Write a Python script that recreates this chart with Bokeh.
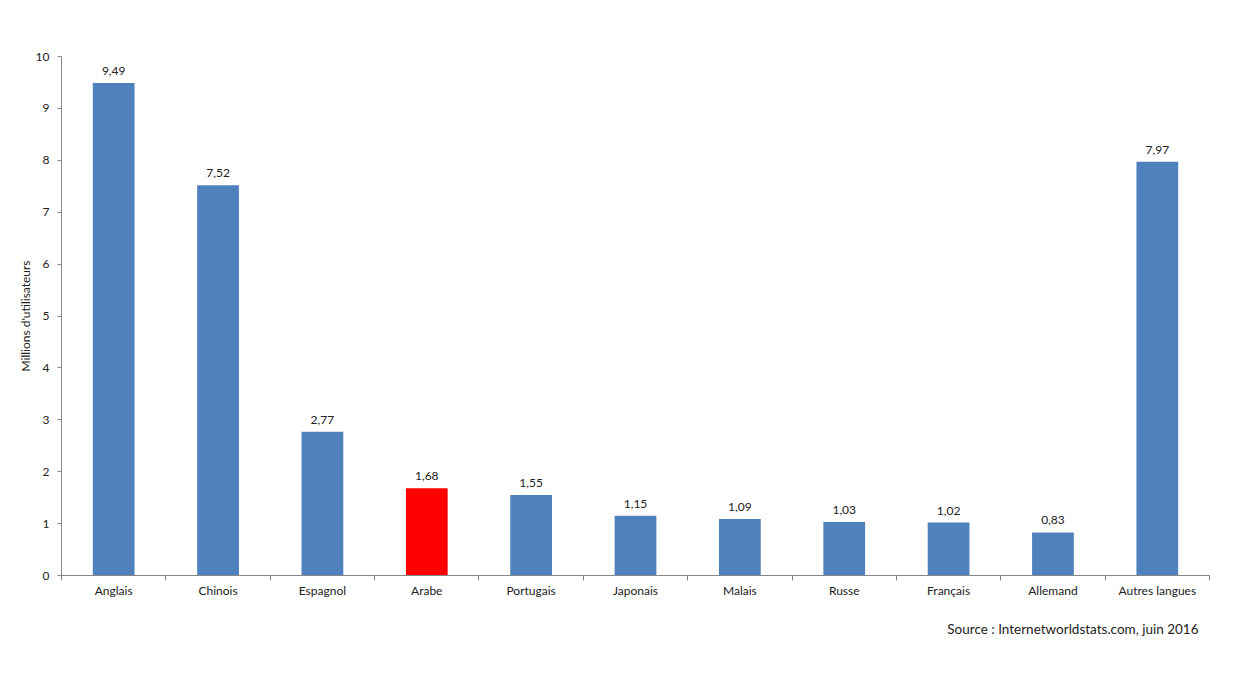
from bokeh.plotting import figure
from bokeh.models import ColumnDataSource, FixedTicker, Range1d, Title
from bokeh.core.properties import value
from bokeh.embed import file_html
from bokeh.resources import INLINE

languages = ["Anglais", "Chinois", "Espagnol", "Arabe", "Portugais", "Japonais",
             "Malais", "Russe", "Français", "Allemand", "Autres langues"]
users = [9.49, 7.52, 2.77, 1.68, 1.55, 1.15, 1.09, 1.03, 1.02, 0.83, 7.97]
highlight = "Arabe"
y_ticks = [0, 1, 2, 3, 4, 5, 6, 7, 8, 9, 10]

BLUE = "#4F81BD"
RED = "#FF0000"
FONT = "Lato"

xs = list(range(len(languages)))
src = ColumnDataSource(dict(
    x=xs,
    users=users,
    color=[RED if l == highlight else BLUE for l in languages],
    label=[f"{v:.2f}".replace(".", ",") for v in users],
))

p = figure(width=1224, height=682, x_range=Range1d(-0.5, len(languages) - 0.5),
           y_range=Range1d(0, 10), output_backend="svg", toolbar_location=None,
           min_border_left=61, min_border_right=15, min_border_top=56,
           min_border_bottom=107)
p.outline_line_color = None
p.background_fill_color = "white"
p.border_fill_color = "white"
p.xgrid.visible = False
p.ygrid.visible = False

p.vbar(x="x", top="users", width=0.4, fill_color="color", line_color=None, source=src)
p.text(x="x", y="users", text="label", text_align="center", text_baseline="bottom",
       y_offset=-8, text_font=value(FONT), text_font_size="12px", text_color="#222222",
       source=src)

AX = "#868686"
xa = p.xaxis[0]
xa.ticker = FixedTicker(ticks=xs, minor_ticks=[i - 0.5 for i in range(len(languages) + 1)])
xa.major_label_overrides = {i: n for i, n in zip(xs, languages)}
xa.major_tick_line_color = None
xa.major_tick_out = 0
xa.major_tick_in = 0
xa.minor_tick_line_color = AX
xa.minor_tick_out = 5
xa.minor_tick_in = 0
xa.axis_line_color = AX
xa.major_label_text_font = FONT
xa.major_label_text_font_size = "12px"
xa.major_label_text_color = "#222222"
xa.major_label_standoff = 2

ya = p.yaxis[0]
ya.ticker = FixedTicker(ticks=y_ticks)
ya.major_tick_out = 4
ya.major_tick_in = 0
ya.minor_tick_line_color = None
ya.major_tick_line_color = AX
ya.axis_line_color = AX
ya.major_label_text_font = FONT
ya.major_label_text_font_size = "12px"
ya.major_label_text_color = "#222222"
ya.major_label_standoff = 8
ya.axis_label = "Millions d'utilisateurs"
ya.axis_label_text_font = FONT
ya.axis_label_text_font_size = "12px"
ya.axis_label_text_font_style = "normal"
ya.axis_label_text_color = "#222222"
ya.axis_label_standoff = 0

p.add_layout(Title(text="Source : Internetworldstats.com, juin 2016", align="right",
                   text_font=FONT, text_font_size="13.5px", text_font_style="normal",
                   text_color="#222222", standoff=36, offset=11), "below")

open("out.html", "w").write(file_html(p, INLINE))
